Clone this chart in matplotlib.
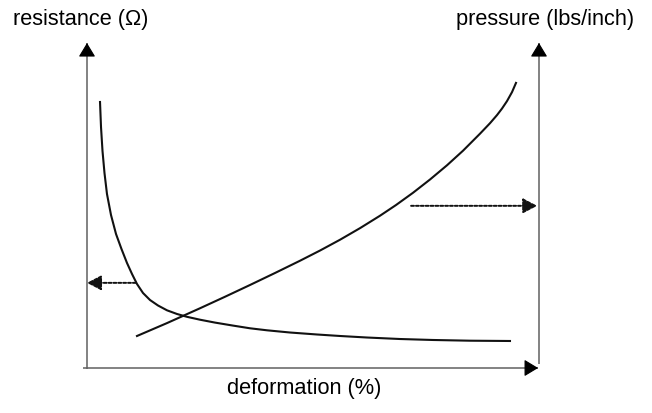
"""
plot.py - resistance / pressure vs deformation sketch
"""

import matplotlib
matplotlib.use('Agg')
from matplotlib import pyplot as plt

# deformation (%) and the two curves
res_x = [2.88, 3.10, 3.43, 3.87, 4.42, 5.31, 6.42, 7.63, 8.85, 9.96, 11.06,
         12.39, 13.94, 15.71, 17.70, 19.91, 22.12, 25.0, 28.32, 32.30, 36.06,
         39.82, 44.91, 50.88, 55.97, 61.95, 69.25, 76.55, 84.73, 93.58]
res_y = [81.85, 74.15, 66.77, 60.0, 53.54, 47.08, 41.23, 36.62, 32.31, 28.92,
         25.85, 23.08, 20.92, 19.23, 17.75, 16.62, 15.75, 14.86, 13.97, 13.05,
         12.22, 11.6, 10.92, 10.31, 9.85, 9.38, 8.92, 8.62, 8.40, 8.31]

prs_x = [11.06, 17.70, 25.0, 30.53, 36.06, 41.59, 47.12, 51.55, 55.97, 60.40,
         64.82, 68.36, 72.12, 75.88, 79.65, 83.19, 86.95, 89.16, 90.71, 91.81,
         92.92, 94.03, 94.91]
prs_y = [9.85, 13.82, 18.38, 21.92, 25.54, 29.23, 33.0, 36.14, 39.46, 43.03,
         46.85, 50.14, 53.91, 57.99, 62.38, 66.86, 72.10, 75.32, 77.82, 79.82,
         82.12, 84.89, 87.72]

# projection arrows (start point of each dotted pointer)
res_pointer = (10.8, 26.2)
prs_pointer = (71.7, 49.9)

x_label = 'deformation (%)'
y_left_label = 'resistance (\u03a9)'
y_right_label = 'pressure (lbs/inch)'

plt.rcParams['font.family'] = ['Liberation Sans', 'DejaVu Sans']

W, H = 652, 414
fig = plt.figure(figsize=(W / 100, H / 100), dpi=100)
ax = fig.add_axes([87 / W, (H - 369) / H, 452 / W, 325 / H])
ax.set_xlim(0, 100)
ax.set_ylim(0, 100)
ax.set_axis_off()

axis_col = '#606060'
head = '-|>,head_length=0.86,head_width=0.52'

def arrow(ax, start, end, col, lw, ls='-', style=head):
    ax.annotate('', xy=end, xytext=start, xycoords='data',
                arrowprops=dict(arrowstyle=style, color=col, lw=lw, ls=ls,
                                shrinkA=0, shrinkB=0, mutation_scale=10),
                annotation_clip=False)

def axis_line(ax, start, end):
    # grey shaft, black head
    ax.plot([start[0], end[0]], [start[1], end[1]], color=axis_col, lw=1.1,
            clip_on=False, solid_capstyle='butt')
    ux = (end[0] - start[0]) * 0.02
    uy = (end[1] - start[1]) * 0.02
    arrow(ax, (end[0] - ux, end[1] - uy), end, 'black', 0.8)

axis_line(ax, (0, -0.3), (0, 100))
axis_line(ax, (-0.9, 0), (99.8, 0))
axis_line(ax, (100, 1.2), (100, 100))

# curves
ax.plot(res_x, res_y, color='#111111', lw=1.5, solid_joinstyle='round', clip_on=False)
ax.plot(prs_x, prs_y, color='#111111', lw=1.5, solid_joinstyle='round', clip_on=False)

# dotted projection pointers
dhead = '-|>,head_length=0.86,head_width=0.45'
arrow(ax, res_pointer, (0, res_pointer[1]), '#111111', 1.4, ls=(0, (1.5, 1)), style=dhead)
arrow(ax, prs_pointer, (99.6, prs_pointer[1]), '#111111', 1.4, ls=(0, (1.5, 1)), style=dhead)

fs = 15.7
fig.text(13 / W, 1 - 19 / H, y_left_label, fontsize=fs, ha='left', va='center')
fig.text(634 / W, 1 - 19 / H, y_right_label, fontsize=fs, ha='right', va='center')
fig.text(304 / W, 1 - 389 / H, x_label, fontsize=fs, ha='center', va='center')

fig.savefig('out.png', dpi=100)
